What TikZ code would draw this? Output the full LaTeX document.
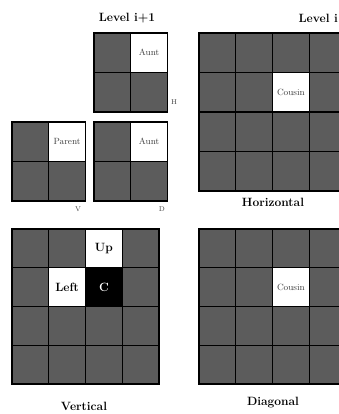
\documentclass[tikz,border=0pt]{standalone}
\begin{document}
\begin{tikzpicture}[x=1pt,y=-1pt,
    cell/.style={fill=black!64,draw=black,line width=1.3pt},
    hole/.style={draw=black,line width=1.3pt,fill=white,inner sep=0pt,
      minimum width=36.75pt,minimum height=39.5pt},
    kin/.style={font=\small,text=black!75},
    tag/.style={font=\scriptsize,text=black!75},
    title/.style={font=\large\bfseries}]
  \def\cw{36.75}
  \clip (0,0) rectangle (339,414);
  \fill[white] (0,0) rectangle (339,414);

  % the six grids: left, top, cells per side, row height
  \foreach \gx/\gy/\n/\ch in {94/33/2/39.5, 12/122/2/39.5, 94/122/2/39.5,
                             199/33/4/39.5, 12/229/4/38.75, 199/229/4/38.75}
    \foreach \i in {1,...,\n}
      \foreach \j in {1,...,\n}
        \draw[cell] ({\gx+(\i-1)*\cw},{\gy+(\j-1)*\ch}) rectangle +(\cw,\ch);

  % level i+1
  \node[hole,kin] (auntH) at (149.1,52.75) {Aunt};
  \node[hole,kin] (parent) at (67.1,141.75) {Parent};
  \node[hole,kin] (auntD) at (149.1,141.75) {Aunt};
  \node[tag] (h) at (174,102) {H};
  \node[tag] (v) at (78,209) {V};
  \node[tag] (d) at (162,209) {D};

  % level i
  \node[hole,kin] (cousinH) at (290.9,92.25) {Cousin};
  \node[hole,title,minimum height=38.75pt] (up) at (103.9,248.4) {Up};
  \node[hole,title,minimum height=38.75pt] (left) at (67.1,287.1) {Left};
  \node[hole,title,fill=black,text=white,minimum height=38.75pt] (c) at (103.9,287.1) {C};
  \node[hole,kin,minimum height=38.75pt] (cousinD) at (290.9,287.1) {Cousin};

  \node[title] (lvlup) at (127,18) {Level i+1};
  \node[title,anchor=east,inner xsep=1pt] (lvl) at (339,18) {Level i};
  \node[title] (horiz) at (273,202) {Horizontal};
  \node[title] (vert) at (84,406) {Vertical};
  \node[title] (diag) at (273,403) {Diagonal};
\end{tikzpicture}
\end{document}
